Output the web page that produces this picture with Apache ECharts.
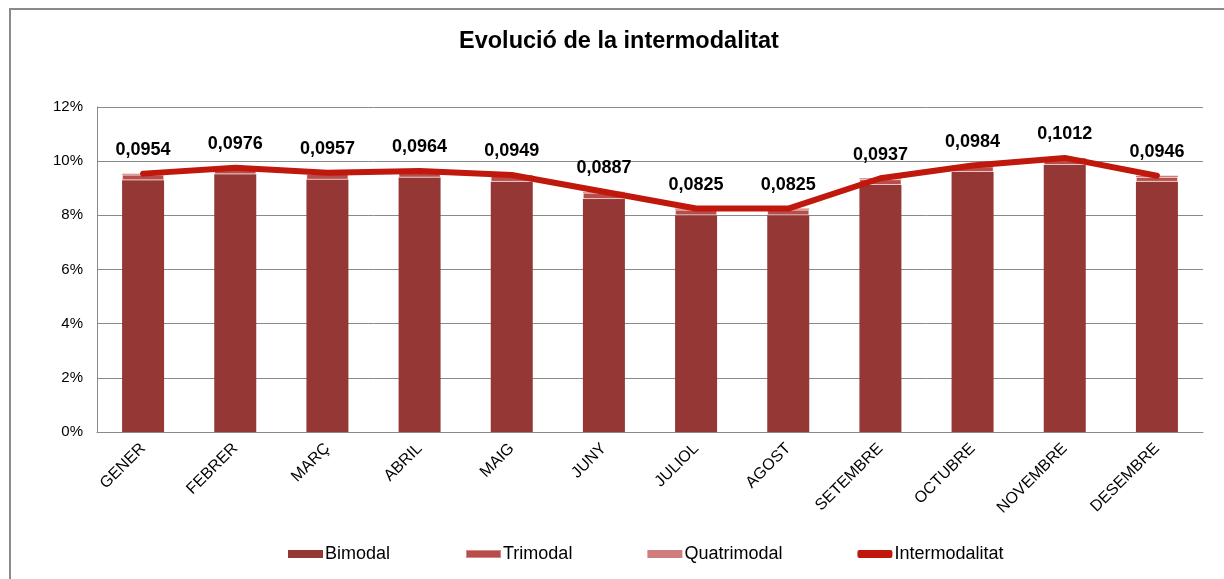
<!DOCTYPE html>
<html>
<head>
<meta charset="utf-8">
<script src="https://cdn.jsdelivr.net/npm/echarts@6/dist/echarts.min.js"></script>
<style>
  html, body { margin: 0; padding: 0; background: #fff; }
  #chart { width: 1224px; height: 579px; }
</style>
</head>
<body>
<div id="chart"></div>
<script>
// dades llegides del gràfic
const months = ['GENER', 'FEBRER', 'MARÇ', 'ABRIL', 'MAIG', 'JUNY', 'JULIOL', 'AGOST', 'SETEMBRE', 'OCTUBRE', 'NOVEMBRE', 'DESEMBRE']
const bimodal = [0.0930, 0.0952, 0.0932, 0.0940, 0.0924, 0.0860, 0.0800, 0.0800, 0.0912, 0.0960, 0.0986, 0.0924]
const trimodal = [0.0020, 0.0020, 0.0021, 0.0020, 0.0021, 0.0023, 0.0021, 0.0021, 0.0021, 0.0020, 0.0022, 0.0018]
const quatrimodal = [0.0004, 0.0004, 0.0004, 0.0004, 0.0004, 0.0004, 0.0004, 0.0004, 0.0004, 0.0004, 0.0004, 0.0004]
const intermodalitat = [0.0954, 0.0976, 0.0957, 0.0964, 0.0949, 0.0887, 0.0825, 0.0825, 0.0937, 0.0984, 0.1012, 0.0946]

const chart = echarts.init(document.getElementById('chart'))
const font = 'Liberation Sans, Arial, sans-serif'

const option = {
  animation: false,
  textStyle: { fontFamily: font },
  graphic: [
    {
      type: 'rect',
      shape: { x: 10, y: 9, width: 1230, height: 600 },
      style: { fill: 'none', stroke: '#8a8a8a', lineWidth: 2 }
    }
  ],
  title: {
    text: 'Evolució de la intermodalitat',
    left: 454,
    top: 25,
    textStyle: { fontSize: 23.5, fontWeight: 'bold', color: '#000', fontFamily: font }
  },
  legend: {
    left: 283,
    top: 540,
    itemWidth: 35,
    itemHeight: 8,
    itemGap: 75,
    textStyle: { fontSize: 18, color: '#000', fontFamily: font, padding: [0, 0, 0, -3] },
    data: [
      { name: 'Bimodal', icon: 'rect' },
      { name: 'Trimodal', icon: 'rect' },
      { name: 'Quatrimodal', icon: 'rect' },
      { name: 'Intermodalitat', icon: 'roundRect' }
    ]
  },
  grid: {
    left: 97,
    right: 21,
    top: 107,
    bottom: 147
  },
  xAxis: {
    type: 'category',
    data: months,
    axisTick: { show: false },
    axisLine: { lineStyle: { color: '#8a8a8a', width: 1 } },
    axisLabel: {
      rotate: 45,
      interval: 0,
      margin: 14,
      fontSize: 16,
      color: '#000'
    }
  },
  yAxis: {
    type: 'value',
    min: 0,
    max: 0.12,
    interval: 0.02,
    axisLine: { show: true, lineStyle: { color: '#8a8a8a', width: 1 } },
    axisTick: { show: false },
    splitLine: { lineStyle: { color: '#8a8a8a', width: 1 } },
    axisLabel: {
      margin: 14,
      fontSize: 15,
      color: '#000',
      formatter: v => Math.round(v * 100) + '%'
    }
  },
  series: [
    {
      name: 'Bimodal',
      type: 'bar',
      stack: 'total',
      barWidth: 42,
      data: bimodal,
      itemStyle: { color: '#953735' }
    },
    {
      name: 'Trimodal',
      type: 'bar',
      stack: 'total',
      data: trimodal,
      itemStyle: { color: '#b84d4a', borderColor: 'rgba(255,255,255,0.35)', borderWidth: 1 }
    },
    {
      name: 'Quatrimodal',
      type: 'bar',
      stack: 'total',
      data: quatrimodal,
      itemStyle: { color: '#cd7d7b' }
    },
    {
      name: 'Intermodalitat',
      type: 'line',
      data: intermodalitat,
      showSymbol: true,
      symbol: 'circle',
      symbolSize: 1,
      itemStyle: { color: '#c0180c' },
      lineStyle: { color: '#c0180c', width: 6, cap: 'round', join: 'round' },
      label: {
        show: true,
        position: 'top',
        distance: 14,
        fontSize: 18,
        fontWeight: 'bold',
        color: '#000',
        formatter: p => p.value.toFixed(4).replace('.', ',')
      },
      z: 5
    }
  ]
}

chart.setOption(option)
</script>
</body>
</html>
